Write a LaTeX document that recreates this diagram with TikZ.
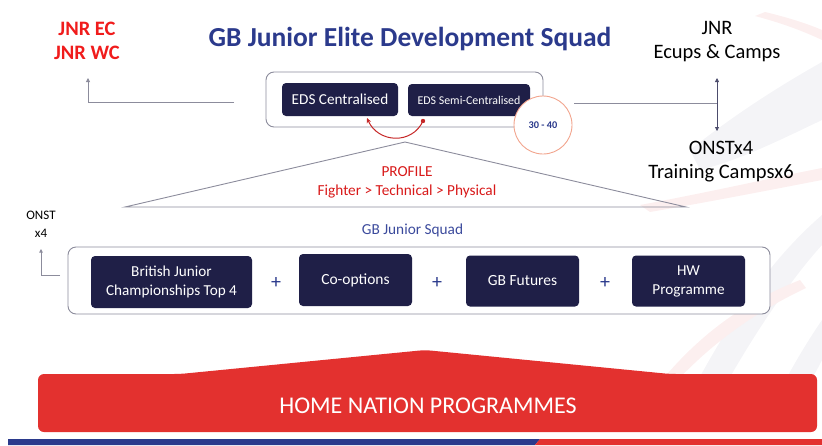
\documentclass[tikz,border=0pt]{standalone}
\usepackage{fontspec}
\setmainfont{Carlito}
\usetikzlibrary{arrows.meta}
\definecolor{navy}{HTML}{2B3A8C}
\definecolor{squadblue}{HTML}{3B4A9C}
\definecolor{boxnavy}{HTML}{1F1F47}
\definecolor{linegray}{HTML}{8C8C9C}
\definecolor{brightred}{HTML}{F01C1C}
\definecolor{homered}{HTML}{E3312F}
\definecolor{curvered}{HTML}{C62828}
\definecolor{circleedge}{HTML}{F2A58E}
\definecolor{faintpink}{HTML}{FCEFEF}
\definecolor{faintgray}{HTML}{F4F4F7}
\tikzset{
  darkbox/.style={fill=boxnavy, rounded corners=4pt, text=white, align=center, inner sep=0pt},
  outerbox/.style={draw=linegray, line width=0.9pt, rounded corners=8pt, fill=white, inner sep=0pt},
  conn/.style={draw=linegray, line width=0.8pt},
  plus/.style={text=navy, font=\fontsize{20}{22}\selectfont},
  sidetext/.style={align=center, font=\fontsize{20.5}{24}\selectfont},
}
\begin{document}
\begin{tikzpicture}[x=1pt,y=-1pt]
\useasboundingbox (0,0) rectangle (822,445);
% faint background swooshes
\fill[faintpink] (765,12) .. controls (790,18) and (808,24) .. (822,30) -- (822,40) .. controls (805,32) and (785,24) .. (755,16) -- cycle;
\fill[faintgray] (690,150) .. controls (740,110) and (790,80) .. (822,62) -- (822,120) .. controls (780,140) and (740,160) .. (700,170) -- cycle;
\fill[faintpink] (640,205) .. controls (720,190) and (780,176) .. (822,168) -- (822,180) .. controls (780,188) and (720,200) .. (650,212) -- cycle;
\fill[faintgray] (690,395) .. controls (730,320) and (770,260) .. (822,215) -- (822,245) .. controls (790,280) and (750,340) .. (720,395) -- cycle;
\fill[faintpink] (650,395) .. controls (700,330) and (750,300) .. (800,280) -- (806,288) .. controls (760,310) and (712,340) .. (664,395) -- cycle;
\fill[faintgray] (770,410) .. controls (790,370) and (805,345) .. (822,320) -- (822,360) .. controls (812,380) and (802,395) .. (795,410) -- cycle;

% title
\node[text=navy, font=\bfseries\fontsize{27.5}{30}\selectfont] (title) at (410,39) {GB Junior Elite Development Squad};
\node[text=brightred, align=center, font=\bfseries\fontsize{20.5}{24}\selectfont] (jnrec) at (87,41) {JNR EC\\JNR WC};
\node[sidetext] (jnr) at (717,42) {JNR\\Ecups \& Camps};
\node[sidetext] (onst) at (721,162) {ONSTx4\\Training Campsx6};

% top box
\node[outerbox, minimum width=277, minimum height=55] (top) at (404.5,99.5) {};
\node[darkbox, minimum width=116, minimum height=33, font=\fontsize{15.2}{17}\selectfont] (edsc) at (340,99.5) {EDS Centralised};
\node[darkbox, minimum width=122, minimum height=32, font=\fontsize{11.9}{13}\selectfont] (edss) at (469,100) {EDS Semi-Centralised};
\node[circle, draw=circleedge, line width=0.9pt, fill=white, minimum size=58, inner sep=0pt, text=navy, font=\bfseries\fontsize{10.3}{12}\selectfont] (num) at (543,125) {30 - 40};

% left connector
\coordinate (lstart) at (234,102);
\coordinate (lcorner) at (88,102);
\coordinate (ltip) at (88,78);
\draw[conn, -{Triangle[length=4pt,width=4pt]}] (lstart) -- (lcorner) -- (ltip);

% right connector
\coordinate (rjoin) at (717,103);
\coordinate (rtop) at (717,78);
\coordinate (rbot) at (717,131);
\draw[conn] (num.east |- rjoin) ++(2,0) -- (rjoin);
\draw[conn, draw=boxnavy!80, {Triangle[length=4pt,width=4pt]}-{Triangle[length=4pt,width=4pt]}] (rtop) -- (rbot);

% red curved arrow
\coordinate (cs) at (423,121);
\coordinate (ce) at (367,118);
\fill[curvered] (cs) circle (2.2pt);
\draw[curvered, line width=1pt, -{Stealth[length=5pt,width=4.5pt]}] (cs) .. controls (412,145) and (378,143) .. (ce);

% triangle
\coordinate (apex) at (405,142);
\coordinate (bl) at (125,207);
\coordinate (br) at (686,207);
\draw[conn, line width=0.9pt] (bl) -- (apex) -- (br) -- cycle;
\node[text=brightred!90!black, align=center, font=\fontsize{15.3}{19}\selectfont] (profile) at (407,182.5) {PROFILE\\Fighter > Technical > Physical};

% squad
\node[font=\fontsize{13}{18}\selectfont, align=center] (onstx) at (41,224) {ONST\\x4};
\node[text=squadblue, font=\fontsize{15.3}{17}\selectfont] (squadlabel) at (412.5,230) {GB Junior Squad};
\node[outerbox, minimum width=702, minimum height=67] (squad) at (419,280.5) {};
\coordinate (sstart) at (60,275);
\coordinate (scorner) at (41,275);
\coordinate (stip) at (41,249);
\draw[conn, -{Triangle[length=3.5pt,width=3.5pt]}] (sstart) -- (scorner) -- (stip);

\node[darkbox, minimum width=161, minimum height=52, font=\fontsize{15.2}{19}\selectfont] (bjc) at (171.5,282) {British Junior\\Championships Top 4};
\node[darkbox, minimum width=113, minimum height=52, font=\fontsize{15.5}{17}\selectfont] (coop) at (355.5,280) {Co-options};
\node[darkbox, minimum width=113, minimum height=51, font=\fontsize{15.5}{17}\selectfont] (gbf) at (522.5,281) {GB Futures};
\node[darkbox, minimum width=113, minimum height=51, font=\fontsize{15.2}{19}\selectfont] (hw) at (688.5,281) {HW\\Programme};
\node[plus] (p1) at (276,283) {+};
\node[plus] (p2) at (437,283) {+};
\node[plus] (p3) at (605,283) {+};

% home nation programmes
\fill[homered, rounded corners=6pt] (38,374) -- (180,374) -- (425,350) -- (670,374) -- (817,374) -- (817,432) -- (38,432) -- cycle;
\node[text=white, font=\fontsize{24}{27}\selectfont] (home) at (428,406) {HOME NATION PROGRAMMES};

% bottom stripe
\fill[navy] (8,439) -- (540,439) -- (535,445) -- (8,445) -- cycle;
\fill[homered] (540,439) -- (822,439) -- (822,445) -- (535,445) -- cycle;
\end{tikzpicture}
\end{document}
